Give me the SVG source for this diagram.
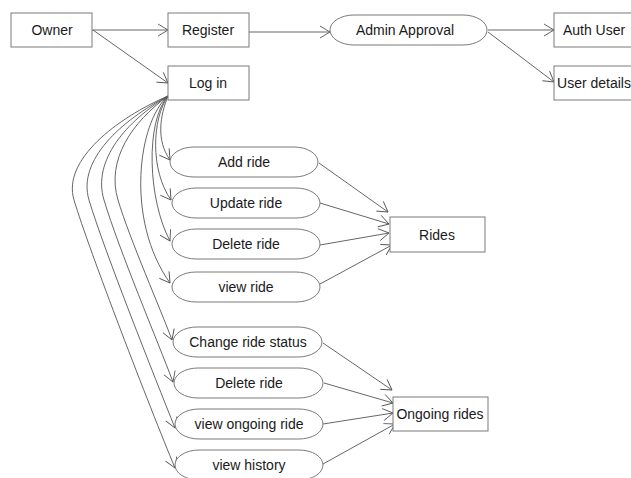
<svg xmlns="http://www.w3.org/2000/svg" width="631" height="478" viewBox="0 0 631 478">
<style>
.box{fill:#fff;stroke:#7a7a7a;stroke-width:1}
.t{font-family:"Liberation Sans",Arial,sans-serif;font-size:14px;fill:#1a1a1a;text-anchor:middle;dominant-baseline:central}
.e{fill:none;stroke:#555;stroke-width:0.9}
</style>
<defs>
<marker id="a" markerUnits="userSpaceOnUse" markerWidth="12" markerHeight="14" refX="11" refY="7" orient="auto">
<path d="M1,1 L11,7 L1,13" fill="none" stroke="#555" stroke-width="0.9"/>
</marker>
</defs>
<rect width="631" height="478" fill="#fff"/>
<g id="connectors">
<path class="e" marker-end="url(#a)" d="M92,30 L168,30"/>
<path class="e" marker-end="url(#a)" d="M93,30 L168,83"/>
<path class="e" marker-end="url(#a)" d="M249,32 L330,32"/>
<path class="e" marker-end="url(#a)" d="M488,30 L554,30"/>
<path class="e" marker-end="url(#a)" d="M488,32 L554,82"/>
<path class="e" marker-end="url(#a)" d="M168,96 C160,116 156,140 170,160"/>
<path class="e" marker-end="url(#a)" d="M168,96 C152,119 150,170 171,200"/>
<path class="e" marker-end="url(#a)" d="M168,96 C145,122 148,200 170,241"/>
<path class="e" marker-end="url(#a)" d="M168,96 C138,122 125,220 170,283"/>
<path class="e" marker-end="url(#a)" d="M168,96 C132,122 106,160 118,200 C130,240 161,310 172,340"/>
<path class="e" marker-end="url(#a)" d="M168,96 C127,121 92,160 104,200 C119,250 158,342 173,382"/>
<path class="e" marker-end="url(#a)" d="M168,96 C122,120 77,160 89,200 C104,250 155,378 175,428"/>
<path class="e" marker-end="url(#a)" d="M168,96 C117,118 62,160 74,200 C89,250 150,408 175,468"/>
<path class="e" marker-end="url(#a)" d="M319,163 L388,212"/>
<path class="e" marker-end="url(#a)" d="M320,203 L389,224"/>
<path class="e" marker-end="url(#a)" d="M320,245 L389,233"/>
<path class="e" marker-end="url(#a)" d="M320,284 L392,245"/>
<path class="e" marker-end="url(#a)" d="M323,343 L392,390"/>
<path class="e" marker-end="url(#a)" d="M324,383 L393,403"/>
<path class="e" marker-end="url(#a)" d="M323,424 L393,413"/>
<path class="e" marker-end="url(#a)" d="M323,464 L395,424"/>
</g>
<g id="owner"><rect class="box" x="11" y="13" width="81" height="34"/><text class="t" x="52" y="30">Owner</text></g>
<g id="register"><rect class="box" x="168" y="13" width="81" height="34"/><text class="t" x="208" y="30">Register</text></g>
<g id="login"><rect class="box" x="168" y="66" width="81" height="34"/><text class="t" x="208" y="83">Log in</text></g>
<g id="admin-approval"><rect class="box" x="330" y="15" width="157" height="30" rx="24" ry="15"/><text class="t" x="405" y="30">Admin Approval</text></g>
<g id="auth-user"><rect class="box" x="554" y="13" width="81" height="34"/><text class="t" x="594" y="30">Auth User</text></g>
<g id="user-details"><rect class="box" x="554" y="66" width="81" height="34"/><text class="t" x="594" y="83">User details</text></g>
<g id="add-ride"><rect class="box" x="170" y="147" width="148" height="30" rx="24" ry="15"/><text class="t" x="244" y="162">Add ride</text></g>
<g id="update-ride"><rect class="box" x="172" y="188" width="148" height="30" rx="24" ry="15"/><text class="t" x="246" y="203">Update ride</text></g>
<g id="delete-ride"><rect class="box" x="172" y="229" width="148" height="30" rx="24" ry="15"/><text class="t" x="246" y="244">Delete ride</text></g>
<g id="view-ride"><rect class="box" x="172" y="272" width="148" height="30" rx="24" ry="15"/><text class="t" x="246" y="287">view ride</text></g>
<g id="rides"><rect class="box" x="390" y="217" width="95" height="35"/><text class="t" x="437" y="234.5">Rides</text></g>
<g id="change-ride-status"><rect class="box" x="173" y="327" width="149" height="30" rx="24" ry="15"/><text class="t" x="248" y="342">Change ride status</text></g>
<g id="delete-ride-2"><rect class="box" x="174" y="368" width="149" height="30" rx="24" ry="15"/><text class="t" x="249" y="383">Delete ride</text></g>
<g id="view-ongoing-ride"><rect class="box" x="175" y="409" width="148" height="30" rx="24" ry="15"/><text class="t" x="249" y="424">view ongoing ride</text></g>
<g id="view-history"><rect class="box" x="175" y="450" width="148" height="30" rx="24" ry="15"/><text class="t" x="249" y="465">view history</text></g>
<g id="ongoing-rides"><rect class="box" x="393" y="397" width="95" height="34"/><text class="t" x="440" y="414">Ongoing rides</text></g>
</svg>
